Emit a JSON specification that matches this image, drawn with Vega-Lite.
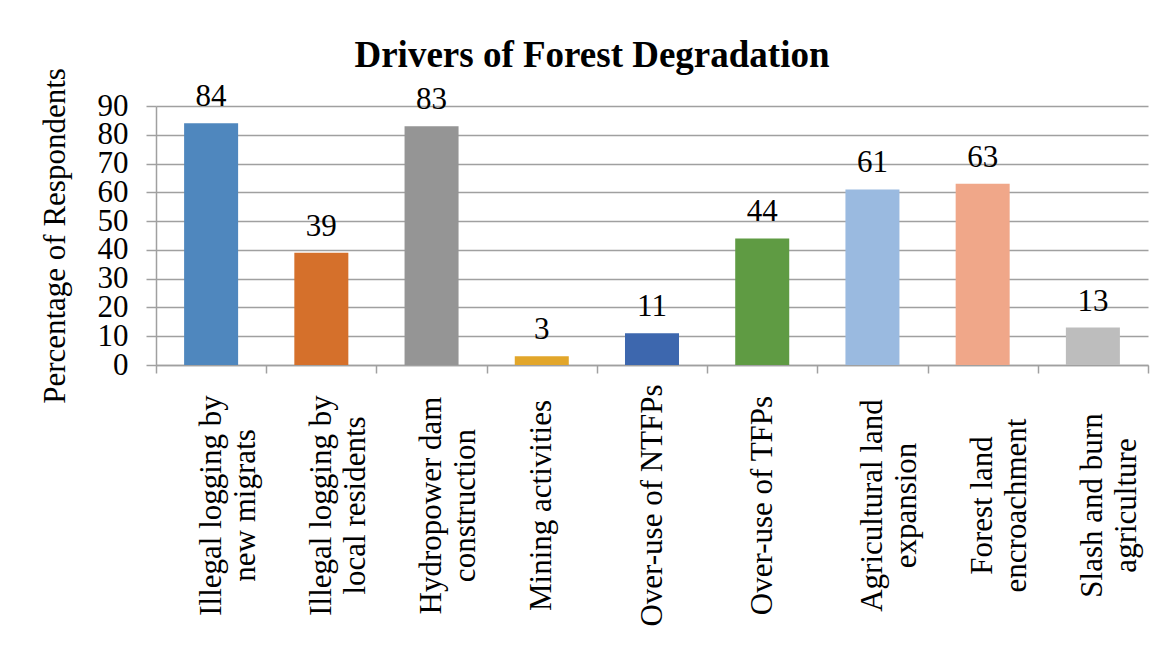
{
  "$schema": "https://vega.github.io/schema/vega-lite/v6.json",
  "width": 992,
  "height": 259,
  "autosize": "none",
  "padding": {"left": 156, "top": 106, "right": 20, "bottom": 301},
  "background": "white",
  "title": {
    "text": "Drivers of Forest Degradation",
    "font": "Liberation Serif",
    "fontSize": 37,
    "fontWeight": "bold",
    "color": "black",
    "anchor": "middle",
    "frame": "group",
    "baseline": "alphabetic",
    "dx": -60,
    "offset": -36
  },
  "data": {
    "values": [
      {"driver": "Illegal logging by\nnew migrats", "pct": 84},
      {"driver": "Illegal logging by\nlocal residents", "pct": 39},
      {"driver": "Hydropower dam\nconstruction", "pct": 83},
      {"driver": "Mining activities", "pct": 3},
      {"driver": "Over-use of NTFPs", "pct": 11},
      {"driver": "Over-use of TFPs", "pct": 44},
      {"driver": "Agricultural land\nexpansion", "pct": 61},
      {"driver": "Forest land\nencroachment", "pct": 63},
      {"driver": "Slash and burn\nagriculture", "pct": 13}
    ]
  },
  "encoding": {
    "x": {
      "field": "driver",
      "type": "nominal",
      "sort": null,
      "scale": {"paddingInner": 0, "paddingOuter": 0},
      "axis": {
        "title": null,
        "tickBand": "extent",
        "tickSize": 8,
        "tickColor": "#a0a0a0",
        "tickWidth": 1.5,
        "domainColor": "#a0a0a0",
        "domainWidth": 1.5,
        "labelAngle": 270,
        "labelAlign": "center",
        "labelBaseline": "middle",
        "labelFont": "Liberation Serif",
        "labelFontSize": 31,
        "labelColor": "black",
        "labelLineHeight": 34,
        "labelLimit": 0,
        "labelOverlap": false,
        "labelBound": false,
        "labelExpr": "split(datum.label, '\\n')",
        "labelPadding": 132
      }
    },
    "y": {
      "field": "pct",
      "type": "quantitative",
      "scale": {"domain": [0, 90], "nice": false},
      "axis": {
        "title": "Percentage of Respondents",
        "titleFont": "Liberation Serif",
        "titleFontSize": 31,
        "titleFontWeight": "normal",
        "titleColor": "black",
        "titlePadding": 26,
        "values": [0, 10, 20, 30, 40, 50, 60, 70, 80, 90],
        "grid": true,
        "gridColor": "#a0a0a0",
        "gridWidth": 1.5,
        "tickSize": 10,
        "tickColor": "#a0a0a0",
        "tickWidth": 1.5,
        "domainColor": "#a0a0a0",
        "domainWidth": 1.5,
        "labelFont": "Liberation Serif",
        "labelFontSize": 31,
        "labelColor": "black",
        "labelPadding": 18,
        "labelOverlap": false,
        "labelBound": false,
        "labelFlush": false
      }
    }
  },
  "layer": [
    {
      "mark": {"type": "bar", "width": {"band": 0.49}},
      "encoding": {
        "color": {
          "field": "driver",
          "type": "nominal",
          "sort": null,
          "legend": null,
          "scale": {
            "range": ["#4f87be", "#d5702b", "#959595", "#e2a62a", "#3d67ae", "#5f9b43", "#9abae0", "#f0a789", "#bdbdbd"]
          }
        }
      }
    },
    {
      "mark": {
        "type": "text",
        "baseline": "alphabetic",
        "dy": -17,
        "font": "Liberation Serif",
        "fontSize": 31,
        "color": "black"
      },
      "encoding": {"text": {"field": "pct", "type": "quantitative"}}
    }
  ],
  "config": {
    "view": {"stroke": null}
  }
}
